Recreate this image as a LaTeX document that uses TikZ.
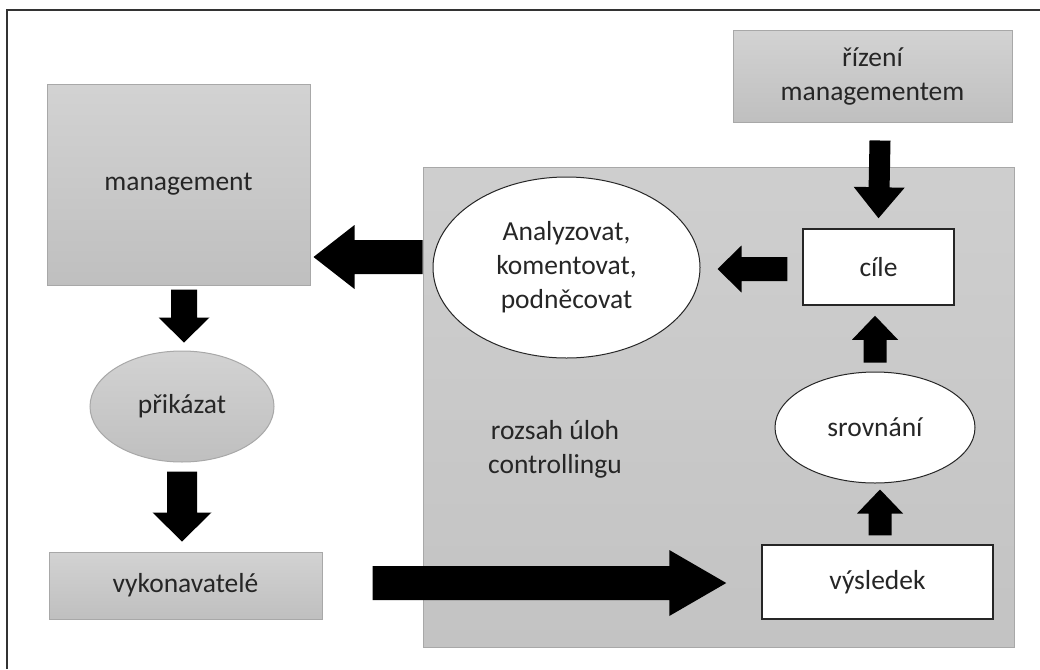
\documentclass[tikz,border=0pt]{standalone}
\usepackage{fontspec}
\setmainfont{Carlito}
\usetikzlibrary{calc,shapes.geometric}

% Filled block arrow from #1 to #2: half shaft width #3, half head width #4, head length #5
\newcommand\blockarrow[5]{%
  \fill[arrowfill] let \p1=(#1), \p2=(#2),
    \n1={atan2(\y2-\y1,\x2-\x1)}, \n2={veclen(\x2-\x1,\y2-\y1)} in
    [shift={(\p1)}, rotate=\n1]
    (0pt,#3) -- (\n2-#5,#3) -- (\n2-#5,#4) -- (\n2,0pt) -- (\n2-#5,-#4)
    -- (\n2-#5,-#3) -- (0pt,-#3) -- cycle;
}

\definecolor{txt}{HTML}{262626}
\definecolor{edge}{HTML}{A8A8A8}

\tikzset{
  base/.style={inner sep=0pt, align=center, text=txt,
    font=\fontsize{27.5}{34}\selectfont},
  graybox/.style={base, rectangle, draw=edge, line width=1pt,
    top color=gray!35, bottom color=gray!50},
  grayoval/.style={base, ellipse, draw=edge, line width=1pt,
    top color=gray!35, bottom color=gray!50},
  whitebox/.style={base, rectangle, draw=black!85, line width=1.5pt, fill=white},
  whiteoval/.style={base, ellipse, draw=black!85, line width=1pt, fill=white},
  arrowfill/.style={fill=black},
}

\begin{document}
\begin{tikzpicture}[x=1pt,y=-1pt]
\useasboundingbox (0,0) rectangle (1040,669);

% outer frame (only top and left edges fall inside the picture)
\draw[line width=2pt, black!80] (7,669) -- (7,10) -- (1040,10);

% controlling area
\node[graybox, top color=gray!38, bottom color=gray!47,
      minimum width=591pt, minimum height=480pt] (ctrl) at (718.5,407) {};
\node[base] (ctrllabel) at (555,449) {rozsah úloh\\controllingu};

% left column
\node[graybox, minimum width=263pt, minimum height=201pt] (mgmt) at (178.5,184.5) {management};
\node[grayoval, minimum width=184pt, minimum height=111pt] (prik) at (182,406.5) {přikázat};
\node[graybox, minimum width=273pt, minimum height=67pt] (vyk) at (185.5,585.5) {vykonavatelé};

% right column
\node[graybox, minimum width=279pt, minimum height=91pt] (riz) at (872.5,76.5) {řízení\\managementem};
\node[whiteoval, minimum width=267pt, minimum height=181pt] (anal) at (566.5,267.5)
  {Analyzovat,\\komentovat,\\podněcovat};
\node[whitebox, minimum width=151pt, minimum height=76pt] (cile) at (878.5,267) {cíle};
\node[whiteoval, minimum width=200pt, minimum height=111pt] (srov) at (875,427.5) {srovnání};
\node[whitebox, minimum width=231pt, minimum height=74pt] (vysl) at (877.5,582) {výsledek};

% connectors
\blockarrow{ctrl.west |- 0,257}{$(mgmt.east |- 0,257)+(3,0)$}{17pt}{32pt}{41pt}
\blockarrow{$(mgmt.south)+(5.5,4)$}{$(prik.north)+(2,-8)$}{13pt}{25.5pt}{25pt}
\blockarrow{$(prik.south)+(0,9)$}{$(prik.south)+(0,79)$}{15pt}{29.5pt}{29pt}
\blockarrow{$(vyk.east |- 0,583)+(50,0)$}{$(vysl.west |- 0,583)+(-35,0)$}{17pt}{33pt}{57pt}
\blockarrow{$(riz.south)+(7.5,18)$}{$(cile.north)+(0,-10)$}{10.5pt}{25.5pt}{31pt}
\blockarrow{$(cile.west |- 0,269)+(-15,0)$}{$(anal.east |- 0,269)+(17,0)$}{12pt}{23.5pt}{24pt}
\blockarrow{$(srov.north)+(0,-9)$}{$(cile.south)+(-3.5,10)$}{11.5pt}{23pt}{24pt}
\blockarrow{$(vysl.north)+(2.5,-9)$}{$(srov.south)+(5,6)$}{11.5pt}{23pt}{24pt}
\end{tikzpicture}
\end{document}
